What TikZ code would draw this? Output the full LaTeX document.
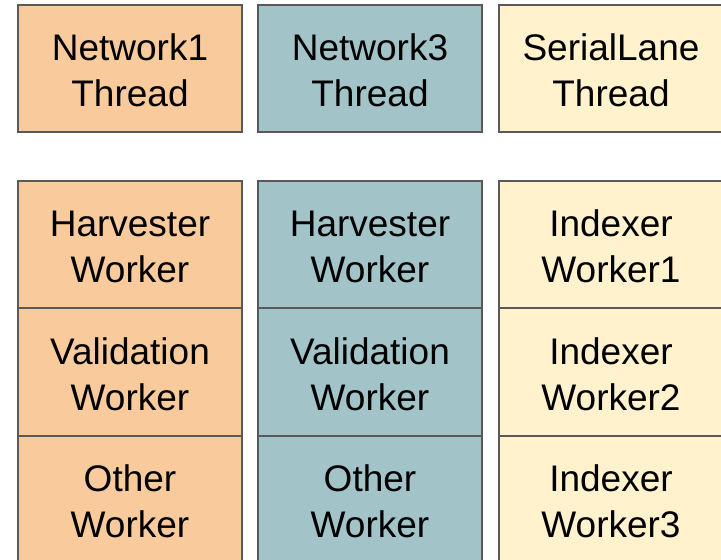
\documentclass[tikz,border=0pt]{standalone}
\usepackage{fontspec}
\setmainfont{Liberation Sans}
\definecolor{cOrange}{HTML}{F9CB9C}
\definecolor{cTeal}{HTML}{A2C4C9}
\definecolor{cYellow}{HTML}{FFF2CC}
\definecolor{cBorder}{HTML}{595959}
\begin{document}
\begin{tikzpicture}[x=1pt,y=-1pt,
  cell/.style={draw=cBorder,line width=2.3pt,minimum width=224pt,inner sep=0pt},
  txt/.style={align=center,font=\fontsize{37}{46}\selectfont,text=black,yshift=-2pt},
  top/.style={cell,minimum height=127pt},
  low/.style={cell,minimum height=127.5pt}]
\useasboundingbox (0,0) rectangle (721,560);
\node[top,fill=cOrange,label={[txt]center:Network1\\Thread}] (n1) at (130,68.5) {};
\node[top,fill=cTeal,label={[txt]center:Network3\\Thread}] (n3) at (370,68.5) {};
\node[top,fill=cYellow,label={[txt]center:SerialLane\\Thread}] (sl) at (611,68.5) {};
\node[low,fill=cOrange,label={[txt]center:Harvester\\Worker}] (h1) at (130,244.5) {};
\node[low,fill=cOrange,label={[txt]center:Validation\\Worker}] (v1) at (130,372) {};
\node[low,fill=cOrange,label={[txt]center:Other\\Worker}] (o1) at (130,499.5) {};
\node[low,fill=cTeal,label={[txt]center:Harvester\\Worker}] (h3) at (370,244.5) {};
\node[low,fill=cTeal,label={[txt]center:Validation\\Worker}] (v3) at (370,372) {};
\node[low,fill=cTeal,label={[txt]center:Other\\Worker}] (o3) at (370,499.5) {};
\node[low,fill=cYellow,label={[txt]center:Indexer\\Worker1}] (i1) at (611,244.5) {};
\node[low,fill=cYellow,label={[txt]center:Indexer\\Worker2}] (i2) at (611,372) {};
\node[low,fill=cYellow,label={[txt]center:Indexer\\Worker3}] (i3) at (611,499.5) {};
\end{tikzpicture}
\end{document}
